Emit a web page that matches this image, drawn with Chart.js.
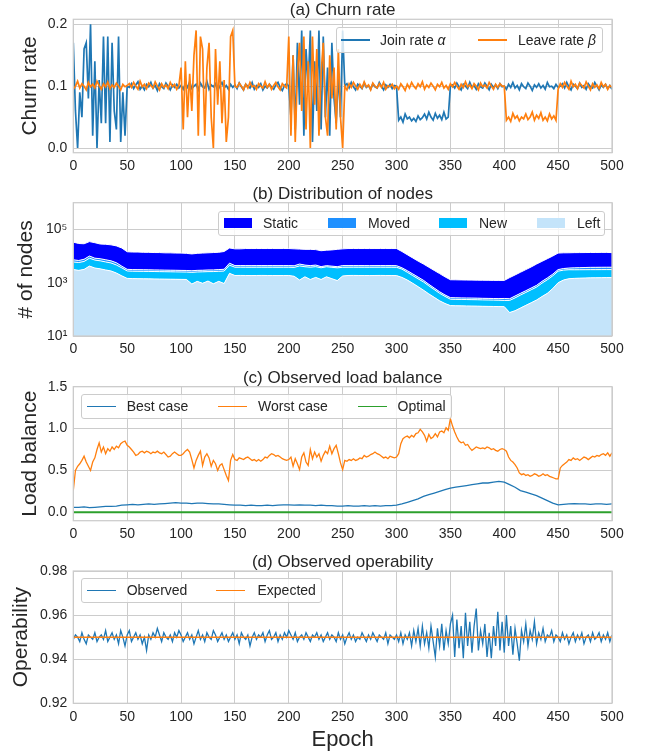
<!DOCTYPE html>
<html>
<head>
<meta charset="utf-8">
<script src="https://cdn.jsdelivr.net/npm/chart.js@4.4.1/dist/chart.umd.min.js"></script>
<style>
  body { margin: 0; background: #fff; }
  #page { position: relative; width: 651px; height: 754px; overflow: hidden; font-family: 'Liberation Sans', Arial, sans-serif; color: #262626; }
  #page canvas { position: absolute; left: 0; }
  .legend { position: absolute; box-sizing: border-box; background: rgba(255,255,255,0.8); border: 1px solid #cccccc; border-radius: 3px; }
  .legend .swatch { position: absolute; height: 1.6px; width: 29px; top: 50%; margin-top: -0.8px; }
  .legend .patch { position: absolute; height: 10px; width: 28px; top: 50%; margin-top: -5px; }
  .legend .ltext { position: absolute; top: 0; font-size: 14px; white-space: nowrap; }
</style>
</head>
<body>
<div id="page">
  <canvas id="churn" width="651" height="178" style="top:0px"></canvas>
  <canvas id="nodes" width="651" height="179" style="top:183px"></canvas>
  <canvas id="load" width="651" height="179" style="top:367px"></canvas>
  <canvas id="oper" width="651" height="203" style="top:551px"></canvas>
</div>
<script>
Chart.defaults.font.family = "'Liberation Sans', Arial, sans-serif";
Chart.defaults.color = '#262626';

const BLUE = '#1f77b4', ORANGE = '#ff7f0e', GREEN = '#2ca02c';
const GRID = '#cccccc';
const PLOT_LEFT = 73.3, PLOT_RIGHT = 612;

// shared x axis
const epochTicks = [0, 50, 100, 150, 200, 250, 300, 350, 400, 450, 500];
const epochsBy2 = Array.from({ length: 251 }, (_, i) => i * 2);
const epochsBy5 = Array.from({ length: 101 }, (_, i) => i * 5);

// (a) churn rate, every 2 epochs
const churnTicks = [0, 0.1, 0.2];
const churnLabels = ['Join rate <i>α</i>', 'Leave rate <i>β</i>'];
const joinRate = [
  0.17,0.06,0.0,0.09,0.05,0.16,0.17,0.08,0.2,0.02,0.14,0.0,0.11,0.04,0.18,0.04,0.18,0.01,0.17,0.06,0.03,0.18,0.01,0.09,0.02,0.1,
  0.098,0.104,0.096,0.102,0.107,0.095,0.1,0.094,0.103,0.099,0.106,0.097,0.101,0.093,0.104,0.099,0.096,0.105,0.1,0.094,0.102,0.098,0.103,0.097,
  0.101,0.095,0.104,0.098,0.107,0.096,0.1,0.103,0.094,0.105,0.099,0.097,0.108,0.095,0.102,0.099,0.104,0.093,0.1,0.106,0.097,0.101,0.095,0.103,0.098,
  0.102,0.096,0.105,0.099,0.094,0.103,0.1,0.097,0.106,0.095,0.101,0.098,0.104,0.094,0.1,0.097,0.103,0.099,0.095,0.102,0.106,0.098,0.093,0.101,0.104,
  0.1,0.05,0.15,0.03,0.17,0.07,0.19,0.02,0.16,0.1,0.19,0.01,0.14,0.06,0.19,0.03,0.18,0.05,0.13,0.02,0.17,0.08,0.04,0.12,0.05,0.19,
  0.1,0.104,0.097,0.106,0.099,0.094,0.103,0.1,0.096,0.105,0.098,0.101,0.095,0.104,0.099,0.097,0.106,0.1,0.094,0.102,0.098,0.103,0.096,0.101,
  0.1,0.045,0.05,0.042,0.055,0.047,0.05,0.044,0.048,0.043,0.052,0.046,0.049,0.055,0.047,0.058,0.05,0.045,0.056,0.048,0.053,0.046,0.058,0.047,0.05,0.1,
  0.102,0.097,0.105,0.099,0.094,0.103,0.1,0.096,0.106,0.098,0.101,0.095,0.104,0.099,0.097,0.105,0.1,0.094,0.103,0.098,0.102,0.096,0.104,0.099,
  0.1,0.095,0.103,0.098,0.106,0.097,0.101,0.094,0.104,0.099,0.096,0.105,0.1,0.093,0.102,0.098,0.104,0.097,0.101,0.095,0.106,0.099,0.1,0.096,0.103,0.098,
  0.1,0.104,0.097,0.106,0.099,0.094,0.103,0.1,0.096,0.105,0.098,0.101,0.095,0.104,0.099,0.097,0.106,0.1,0.094,0.102,0.098,0.103,0.096,0.101,0.095
];
const leaveRate = [
  0.095,0.1,0.108,0.097,0.104,0.1,0.094,0.106,0.099,0.103,0.097,0.108,0.101,0.095,0.104,0.099,0.107,0.096,0.102,0.098,0.105,0.1,0.094,0.103,0.099,0.101,
  0.104,0.098,0.106,0.1,0.095,0.108,0.099,0.103,0.096,0.105,0.101,0.097,0.107,0.1,0.094,0.104,0.098,0.102,0.096,0.106,0.099,0.103,0.095,0.101,
  0.13,0.03,0.14,0.05,0.12,0.06,0.15,0.19,0.02,0.18,0.16,0.02,0.13,0.17,0.05,0.0,0.16,0.07,0.14,0.04,0.11,0.01,0.05,0.18,0.19,0.1,
  0.098,0.105,0.1,0.094,0.103,0.097,0.106,0.099,0.101,0.095,0.104,0.1,0.097,0.107,0.098,0.103,0.095,0.101,0.106,0.099,0.094,0.104,0.1,0.097,
  0.18,0.02,0.15,0.01,0.12,0.17,0.06,0.18,0.03,0.14,0.0,0.18,0.07,0.16,0.02,0.12,0.17,0.05,0.02,0.15,0.08,0.13,0.03,0.16,0.05,0.0,
  0.1,0.094,0.104,0.098,0.106,0.1,0.095,0.103,0.097,0.107,0.099,0.102,0.094,0.105,0.1,0.097,0.104,0.098,0.106,0.095,0.101,0.099,0.103,0.096,
  0.1,0.095,0.104,0.099,0.093,0.103,0.097,0.106,0.1,0.096,0.104,0.099,0.107,0.095,0.102,0.098,0.105,0.1,0.094,0.103,0.099,0.106,0.097,0.101,0.095,0.104,
  0.099,0.106,0.1,0.095,0.103,0.098,0.107,0.099,0.102,0.096,0.104,0.1,0.094,0.105,0.099,0.102,0.097,0.106,0.1,0.095,0.103,0.098,0.104,0.1,
  0.1,0.045,0.05,0.043,0.056,0.048,0.052,0.044,0.05,0.047,0.055,0.046,0.05,0.058,0.045,0.053,0.048,0.057,0.045,0.05,0.044,0.055,0.047,0.052,0.045,0.095,
  0.104,0.098,0.106,0.1,0.095,0.108,0.099,0.103,0.096,0.105,0.101,0.097,0.107,0.1,0.094,0.104,0.098,0.102,0.096,0.106,0.099,0.103,0.095,0.101,0.098
];

// (b) distribution of nodes, every 5 epochs (stacked: Left, New, Moved, Static)
const nodeTicks = [1e1, 1e3, 1e5];
const nodeLabels = ['Left', 'New', 'Moved', 'Static'];
const nodesLeft = [
  3100,2900,3150,4200,3550,3300,3000,2750,2300,1800,
  1450,1420,1410,1400,1390,1380,1370,1360,1350,1340,
  1330,1320,890,1120,950,1150,910,1120,930,2240,
  1860,1870,1860,1850,1860,1870,1860,1860,1850,1860,
  1860,1740,1260,1660,1320,1580,1320,1660,1410,1200,
  1780,1860,1870,1860,1860,1850,1860,1870,1860,1860,
  1840,1580,1260,955,710,525,380,282,209,166,
  138,136,135,134,133,132,130,129,128,127,
  126,76,89,112,141,178,224,302,398,603,
  1000,1260,1410,1450,1480,1500,1520,1530,1540,1550,
  1550
];
const nodesNew = [
  2900,2800,3100,4100,3500,3300,3000,2750,2300,1800,
  1300,1280,1270,1260,1250,1240,1230,1220,1210,1200,
  1190,1180,1550,1400,1600,1450,1700,1550,1800,2300,
  1940,1940,1940,1940,1940,1940,1940,1940,1940,1940,
  1940,2000,3000,2300,2500,2400,2300,2300,2370,2400,
  2000,1940,1940,1940,1940,1940,1940,1940,1940,1940,
  1940,1650,1200,900,690,540,380,270,190,140,
  102,100,100,99,98,97,96,95,94,93,
  90,140,180,230,290,365,460,660,890,1200,
  1700,1700,1650,1600,1580,1570,1560,1550,1550,1550,
  1550
];
const nodesMoved = [
  1200,1100,1300,1700,1250,1300,1250,1100,1000,570,
  420,400,400,400,390,390,390,380,380,380,
  370,370,360,380,380,400,400,430,450,860,
  570,570,570,570,570,570,570,570,570,570,
  570,560,740,600,550,600,380,400,390,380,
  590,570,570,570,570,570,570,570,570,570,
  570,400,360,285,220,165,110,78,58,41,
  35,35,34,34,34,34,33,33,33,33,
  40,34,47,56,69,87,110,158,222,287,
  400,430,480,550,600,640,680,690,700,700,
  700
];
const nodesStatic = [
  26000,22700,21300,24700,23300,20300,20300,19700,18400,15800,
  11300,11000,11000,10700,10700,10500,10500,10200,10200,10000,
  10000,9700,9200,9700,9970,10200,10490,10700,11600,14600,
  14200,14200,14700,14700,14700,14700,14700,14700,14700,14700,
  14700,14300,13200,13200,13400,12800,11800,12200,12800,13800,
  14200,14700,14700,14700,14700,14700,14700,14700,14700,14700,
  14700,11170,8380,6360,4840,3780,2930,2250,1730,1310,
  1015,1010,1000,990,985,980,975,970,965,965,
  964,1300,1634,2057,2590,3260,4216,5190,6430,7910,
  9800,9790,9700,9800,9800,9800,9800,9800,9900,9900,
  9600
];
const nodeColors = ['#c4e4fa', '#00bfff', '#1e90ff', '#0000ff'];

// (c) observed load balance
const loadTicks = [0, 0.5, 1.0, 1.5];
const loadLabels = ['Best case', 'Worst case', 'Optimal'];
const bestCase = [ // every 5 epochs
  0.06,0.06,0.065,0.055,0.06,0.065,0.07,0.07,0.075,0.085,
  0.09,0.095,0.09,0.095,0.1,0.095,0.1,0.105,0.11,0.115,
  0.11,0.11,0.105,0.11,0.11,0.105,0.1,0.1,0.095,0.09,
  0.085,0.085,0.08,0.085,0.08,0.08,0.085,0.08,0.085,0.09,
  0.09,0.085,0.09,0.085,0.085,0.08,0.085,0.08,0.08,0.075,
  0.075,0.08,0.075,0.075,0.08,0.075,0.08,0.075,0.08,0.08,
  0.085,0.1,0.12,0.14,0.16,0.19,0.21,0.23,0.25,0.27,
  0.29,0.3,0.31,0.32,0.33,0.34,0.35,0.35,0.36,0.37,
  0.36,0.33,0.3,0.26,0.24,0.22,0.2,0.17,0.14,0.11,
  0.09,0.095,0.1,0.105,0.1,0.1,0.095,0.1,0.1,0.095,
  0.1
];
const worstCase = [ // every 2 epochs
  0.26,0.5,0.55,0.58,0.62,0.67,0.6,0.55,0.5,0.6,0.65,0.75,0.83,0.72,0.78,0.7,0.76,0.73,0.78,0.75,0.79,0.77,0.82,0.84,0.85,0.8,
  0.78,0.75,0.72,0.68,0.69,0.72,0.73,0.71,0.73,0.72,0.7,0.72,0.71,0.73,0.71,0.7,0.72,0.69,0.66,0.67,0.7,0.72,0.7,0.68,
  0.68,0.7,0.73,0.75,0.72,0.63,0.53,0.62,0.68,0.73,0.56,0.66,0.7,0.65,0.55,0.62,0.58,0.5,0.56,0.58,0.51,0.44,0.38,0.62,0.69,
  0.63,0.62,0.65,0.64,0.63,0.65,0.66,0.64,0.62,0.63,0.61,0.63,0.61,0.63,0.66,0.65,0.68,0.7,0.69,0.67,0.68,0.66,0.64,0.63,0.62,
  0.63,0.66,0.55,0.64,0.58,0.51,0.66,0.71,0.6,0.56,0.75,0.64,0.72,0.66,0.7,0.61,0.68,0.73,0.7,0.79,0.7,0.76,0.8,0.7,0.59,
  0.51,0.62,0.61,0.63,0.62,0.64,0.62,0.63,0.65,0.64,0.68,0.66,0.67,0.69,0.7,0.72,0.7,0.69,0.67,0.65,0.66,0.64,0.67,0.66,0.65,
  0.66,0.7,0.82,0.88,0.9,0.91,0.89,0.92,0.9,0.94,0.95,0.99,0.96,0.92,0.85,0.93,0.88,0.9,0.94,0.9,0.96,0.97,0.95,1.01,0.98,
  1.12,1.03,0.96,0.9,0.85,0.83,0.84,0.8,0.81,0.77,0.74,0.76,0.78,0.77,0.76,0.77,0.76,0.78,0.77,0.75,0.76,0.74,0.73,0.75,0.76,
  0.75,0.73,0.66,0.62,0.6,0.57,0.53,0.47,0.45,0.46,0.44,0.45,0.43,0.44,0.46,0.45,0.43,0.44,0.46,0.44,0.45,0.43,0.42,0.41,0.4,
  0.4,0.53,0.56,0.58,0.6,0.63,0.62,0.65,0.63,0.64,0.62,0.64,0.66,0.65,0.63,0.65,0.67,0.66,0.68,0.67,0.69,0.7,0.68,0.71,0.67,0.71
];
const optimalEpochs = [0, 500];
const optimal = [0, 0];

// (d) observed operability, every 2 epochs
const operTicks = [0.92, 0.94, 0.96, 0.98];
const operLabels = ['Observed', 'Expected'];
const observed = [
  0.949,0.951,0.95,0.948,0.952,0.949,0.947,0.951,0.95,0.949,0.952,0.948,0.95,0.951,0.949,0.953,0.948,0.95,0.952,0.949,
  0.951,0.947,0.953,0.95,0.946,0.951,0.953,0.948,0.95,0.952,0.949,0.951,0.947,0.95,0.944,0.951,0.949,0.952,0.95,0.954,
  0.951,0.948,0.952,0.95,0.949,0.951,0.948,0.952,0.95,0.953,
  0.951,0.948,0.95,0.952,0.949,0.951,0.947,0.95,0.953,0.949,0.951,0.948,0.952,0.95,0.949,0.953,0.951,0.948,0.95,0.952,
  0.949,0.951,0.948,0.95,0.952,0.949,0.951,0.947,0.952,0.95,0.949,0.951,0.946,0.95,0.952,0.949,0.951,0.95,0.952,0.948,
  0.951,0.953,0.949,0.95,0.952,0.948,0.951,0.949,0.952,0.95,
  0.953,0.951,0.949,0.952,0.948,0.95,0.951,0.949,0.952,0.95,0.948,0.951,0.95,0.952,0.949,0.951,0.948,0.95,0.952,0.949,
  0.951,0.95,0.948,0.952,0.949,0.951,0.947,0.95,0.952,0.949,0.951,0.948,0.95,0.949,0.952,0.95,0.948,0.951,0.949,0.952,
  0.95,0.948,0.951,0.95,0.949,0.952,0.947,0.951,0.95,0.949,
  0.951,0.948,0.952,0.947,0.951,0.949,0.952,0.946,0.953,0.948,0.954,0.946,0.955,0.947,0.952,0.945,0.955,0.948,0.941,0.954,
  0.946,0.956,0.944,0.953,0.947,0.956,0.96,0.941,0.958,0.945,0.955,0.9405,0.961,0.946,0.957,0.943,0.955,0.963,0.944,0.953,
  0.947,0.956,0.941,0.952,0.9405,0.955,0.946,0.9615,0.944,0.957,
  0.943,0.96,0.946,0.955,0.942,0.954,0.947,0.9393,0.953,0.948,0.956,0.946,0.953,0.949,0.957,0.947,0.952,0.949,0.954,0.948,
  0.951,0.95,0.953,0.948,0.951,0.95,0.948,0.952,0.949,0.951,0.947,0.95,0.952,0.948,0.951,0.949,0.952,0.947,0.95,0.951,
  0.948,0.952,0.949,0.95,0.952,0.948,0.951,0.949,0.952,0.948,
  0.951
];
const expectedEpochs = [0, 500];
const expected = [0.95, 0.95];

const xy = (xs, ys) => ys.map((y, i) => ({ x: xs[i], y }));

// matplotlib-style frame on all four sides
const framePlugin = {
  id: 'frame',
  afterDraw(chart) {
    const { ctx, chartArea: a } = chart;
    ctx.save();
    ctx.strokeStyle = GRID;
    ctx.lineWidth = 1.25;
    ctx.strokeRect(a.left, a.top, a.right - a.left, a.bottom - a.top);
    ctx.restore();
  }
};

function panelOptions(p) {
  return {
    responsive: false,
    animation: false,
    events: [],
    layout: { padding: { left: 0, right: 651 - PLOT_RIGHT, top: 0, bottom: 0 } },
    elements: { point: { radius: 0 }, line: { tension: 0 } },
    plugins: {
      legend: { display: false },
      tooltip: { enabled: false },
      // not fullSize: the title is centred over the plot area, as in matplotlib
      title: { display: true, fullSize: false, text: p.title, color: '#262626',
               padding: { top: p.titlePad, bottom: 0 },
               font: { size: 17, weight: 'normal', lineHeight: 1.0 } }
    },
    scales: {
      x: {
        type: 'linear', min: 0, max: 500,
        afterBuildTicks: s => { s.ticks = epochTicks.map(v => ({ value: v })); },
        afterFit: s => { s.height = p.xHeight; },
        grid: { color: GRID, lineWidth: 1, drawTicks: false },
        border: { display: false },
        ticks: { font: { size: 14 }, color: '#262626', padding: 5, maxRotation: 0, autoSkip: false },
        title: p.xTitle
          ? { display: true, text: p.xTitle, color: '#262626', font: { size: 22, lineHeight: 1.2 }, padding: { top: 0, bottom: 1 } }
          : { display: false }
      },
      y: {
        type: p.yType || 'linear', min: p.yMin, max: p.yMax, stacked: !!p.stacked,
        afterBuildTicks: s => { s.ticks = p.yTicks.map(v => ({ value: v })); },
        afterFit: s => { s.width = PLOT_LEFT; },
        grid: { color: GRID, lineWidth: 1, drawTicks: false },
        border: { display: false },
        ticks: { font: { size: 14 }, color: '#262626', padding: 6, callback: p.fmt },
        title: { display: true, text: p.yTitle, color: '#262626', font: { size: 21, lineHeight: 1.2 },
                 padding: { top: p.yTitlePad, bottom: 0 } }
      }
    }
  };
}

new Chart(document.getElementById('churn'), {
  type: 'line',
  data: { datasets: [
    { label: churnLabels[0], data: xy(epochsBy2, joinRate), borderColor: BLUE, borderWidth: 1.7, order: 1 },
    { label: churnLabels[1], data: xy(epochsBy2, leaveRate), borderColor: ORANGE, borderWidth: 1.7, order: 0 }
  ] },
  options: panelOptions({ title: '(a) Churn rate', yTitle: 'Churn rate', yTitlePad: 17.4, titlePad: 2.3, xHeight: 25.3,
    yMin: -0.0075, yMax: 0.208, yTicks: churnTicks, fmt: v => v.toFixed(1) }),
  plugins: [framePlugin]
});

const sup = { 1: '¹', 3: '³', 5: '⁵' };
new Chart(document.getElementById('nodes'), {
  type: 'line',
  data: { datasets: [nodesLeft, nodesNew, nodesMoved, nodesStatic].map((vals, i) => ({
    label: nodeLabels[i], data: xy(epochsBy5, vals), backgroundColor: nodeColors[i],
    borderColor: '#ffffff', borderWidth: 1, fill: i === 0 ? 'start' : '-1'
  })) },
  options: panelOptions({ title: '(b) Distribution of nodes', yTitle: '# of nodes', yTitlePad: 14, titlePad: 2.7, xHeight: 26,
    yType: 'logarithmic', stacked: true, yMin: 10, yMax: 1e6, yTicks: nodeTicks,
    fmt: v => '10' + sup[Math.round(Math.log10(v))] }),
  plugins: [framePlugin]
});

new Chart(document.getElementById('load'), {
  type: 'line',
  data: { datasets: [
    { label: loadLabels[0], data: xy(epochsBy5, bestCase), borderColor: BLUE, borderWidth: 1.3 },
    { label: loadLabels[1], data: xy(epochsBy2, worstCase), borderColor: ORANGE, borderWidth: 1.3 },
    { label: loadLabels[2], data: xy(optimalEpochs, optimal), borderColor: GREEN, borderWidth: 2 }
  ] },
  options: panelOptions({ title: '(c) Observed load balance', yTitle: 'Load balance', yTitlePad: 17.4, titlePad: 2.7, xHeight: 25.3,
    yMin: -0.1, yMax: 1.5, yTicks: loadTicks, fmt: v => v.toFixed(1) }),
  plugins: [framePlugin]
});

new Chart(document.getElementById('oper'), {
  type: 'line',
  data: { datasets: [
    { label: operLabels[0], data: xy(epochsBy2, observed), borderColor: BLUE, borderWidth: 1.3, order: 1 },
    { label: operLabels[1], data: xy(expectedEpochs, expected), borderColor: ORANGE, borderWidth: 1.5, order: 0 }
  ] },
  options: panelOptions({ title: '(d) Observed operability', yTitle: 'Operability', yTitlePad: 9, titlePad: 3.0, xHeight: 50.7,
    xTitle: 'Epoch', yMin: 0.92, yMax: 0.98, yTicks: operTicks, fmt: v => v.toFixed(2) }),
  plugins: [framePlugin]
});

// matplotlib-like legends laid over the plot areas
function addLegend(box, items) {
  const el = document.createElement('div');
  el.className = 'legend';
  el.style.cssText = `left:${box.x}px;top:${box.y}px;width:${box.w}px;height:${box.h}px;`;
  items.forEach(it => {
    const mark = document.createElement('span');
    mark.className = it.patch ? 'patch' : 'swatch';
    mark.style.left = (it.markX - box.x - 1) + 'px';
    mark.style.background = it.color;
    const text = document.createElement('span');
    text.className = 'ltext';
    text.style.left = (it.textX - box.x - 1) + 'px';
    text.style.lineHeight = (box.h - 2) + 'px';
    text.innerHTML = it.label;
    el.append(mark, text);
  });
  document.getElementById('page').appendChild(el);
}

addLegend({ x: 336, y: 26.7, w: 267, h: 26.6 }, [
  { label: churnLabels[0], color: BLUE, markX: 341, textX: 380 },
  { label: churnLabels[1], color: ORANGE, markX: 478, textX: 518 }
]);
addLegend({ x: 218, y: 210.7, w: 387, h: 25.4 }, [
  { label: nodeLabels[3], color: nodeColors[3], markX: 224, textX: 263, patch: true },
  { label: nodeLabels[2], color: nodeColors[2], markX: 328, textX: 368, patch: true },
  { label: nodeLabels[1], color: nodeColors[1], markX: 439, textX: 479, patch: true },
  { label: nodeLabels[0], color: nodeColors[0], markX: 537, textX: 577, patch: true }
]);
addLegend({ x: 81, y: 394.3, w: 371, h: 24.7 }, [
  { label: loadLabels[0], color: BLUE, markX: 86.7, textX: 126.7 },
  { label: loadLabels[1], color: ORANGE, markX: 218, textX: 258 },
  { label: loadLabels[2], color: GREEN, markX: 357.5, textX: 397.5 }
]);
addLegend({ x: 81, y: 577.7, w: 240.6, h: 25.5 }, [
  { label: operLabels[0], color: BLUE, markX: 86.7, textX: 126.7 },
  { label: operLabels[1], color: ORANGE, markX: 216, textX: 257.5 }
]);
</script>
</body>
</html>
